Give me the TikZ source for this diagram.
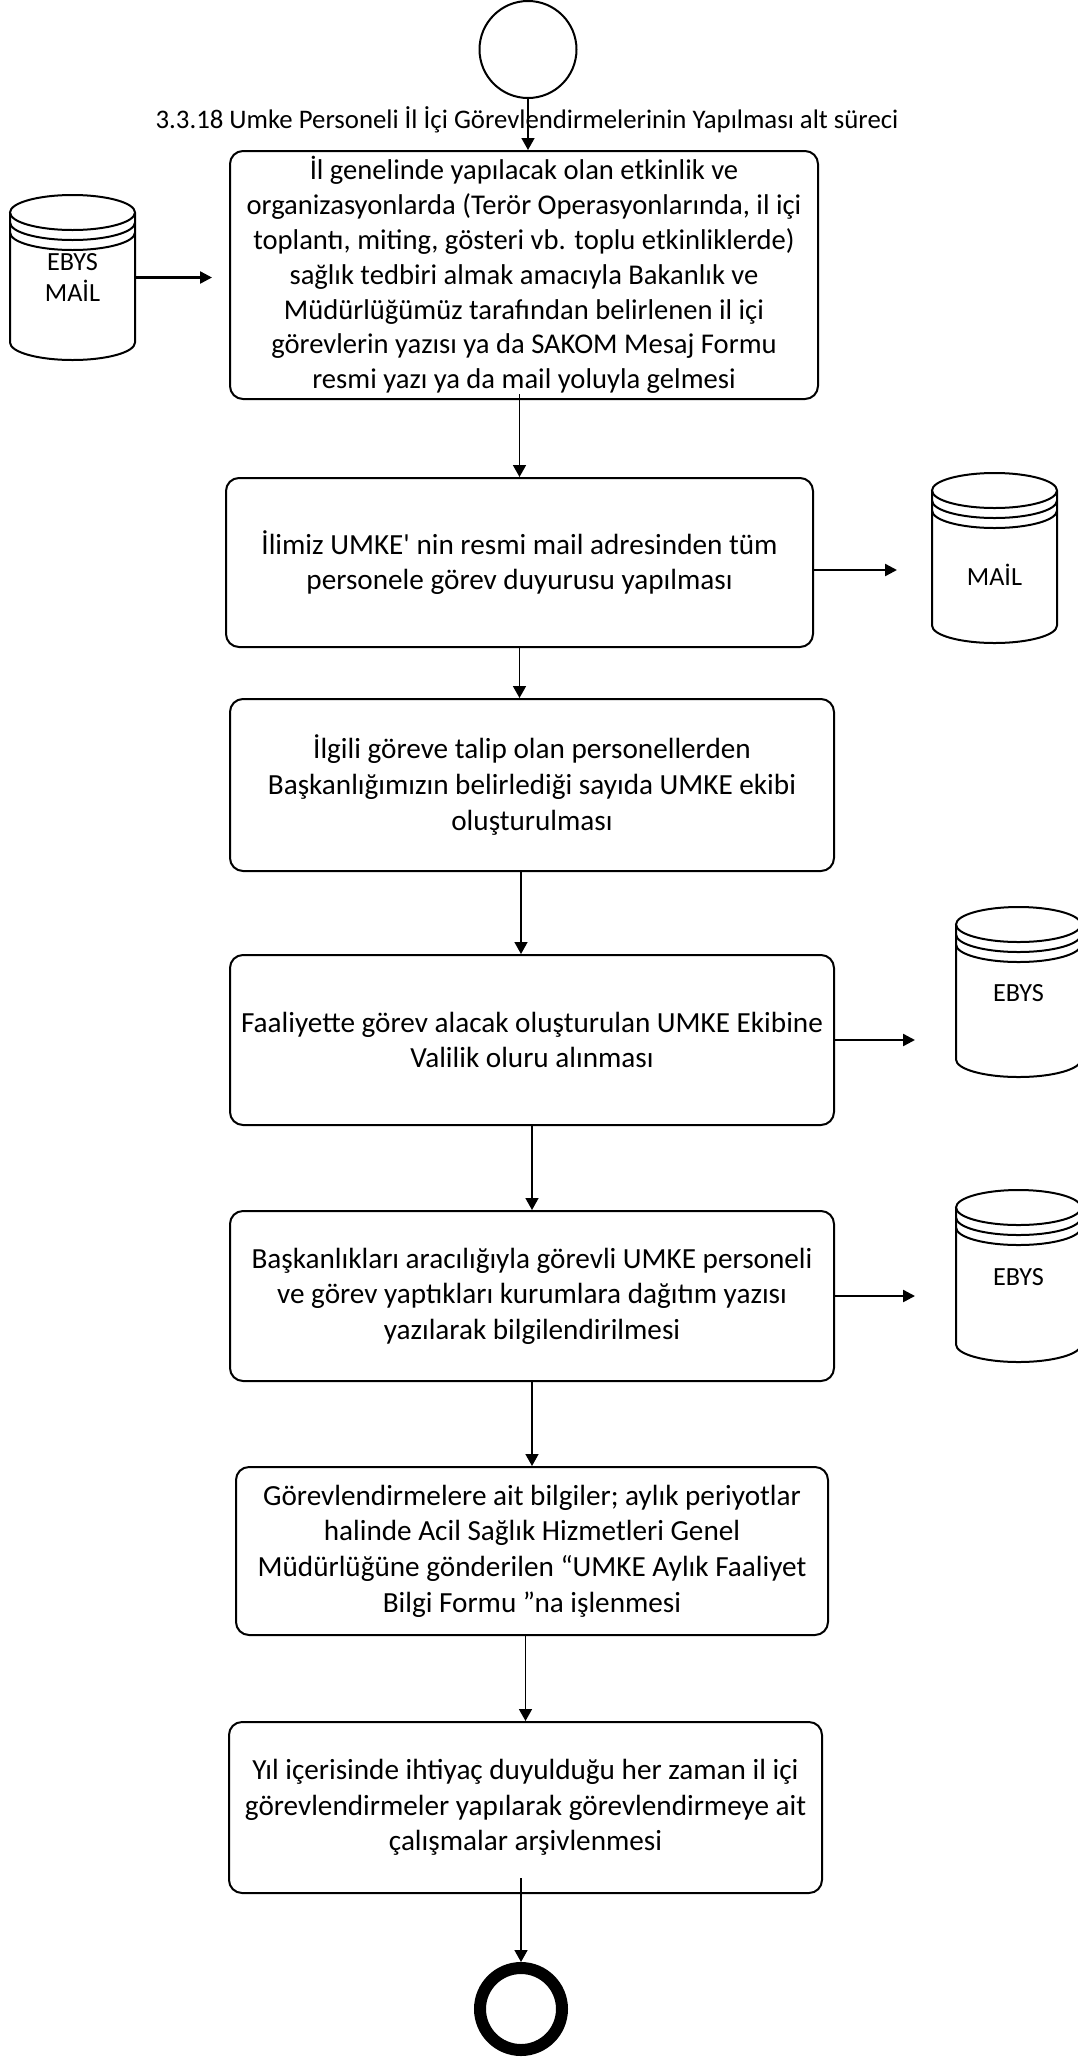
\documentclass[tikz,border=0pt]{standalone}
\usepackage{fontspec}
\setmainfont{Carlito}
\usetikzlibrary{arrows.meta}
\tikzset{
  box/.style={draw, line width=2pt, rounded corners=13pt, align=center, inner sep=0pt,
    font=\fontsize{29.2}{35.6}\selectfont},
  varr/.style={line width=1.6pt, -{Triangle[length=12pt,width=13pt]}},
  harr/.style={line width=2.4pt, -{Triangle[length=12pt,width=12pt]}},
  dbnode/.style={inner sep=0pt, outer sep=0pt, minimum width=125pt},
  dbtext/.style={align=center, inner sep=0pt, font=\fontsize{26.2}{31}\selectfont},
  dbline/.style={line width=2pt},
}
\newcommand\drawdb[1]{%
  \draw[dbline] ([yshift=-17.5pt]#1.north west) -- ([yshift=17.5pt]#1.south west)
    arc[start angle=180,end angle=360,x radius=62.5pt,y radius=17.5pt]
    -- ([yshift=-17.5pt]#1.north east);
  \draw[dbline] ([yshift=-17.5pt]#1.north) ellipse[x radius=62.5pt,y radius=17.5pt];
  \draw[dbline] ([yshift=-27.5pt]#1.north west)
    arc[start angle=180,end angle=360,x radius=62.5pt,y radius=17.5pt];
  \draw[dbline] ([yshift=-37.5pt]#1.north west)
    arc[start angle=180,end angle=360,x radius=62.5pt,y radius=17.5pt];
}
\begin{document}
\begin{tikzpicture}[x=1pt,y=-1pt]
\fill[white] (0,0) rectangle (1078,2067);
\useasboundingbox (0,0) rectangle (1078,2067);

% start / end
\node[circle, draw, line width=2pt, minimum size=97pt, inner sep=0pt] (start) at (528,49.5) {};
\node[circle, draw, line width=12pt, minimum size=82pt, inner sep=0pt] (end) at (521,2009) {};

% title
\node[anchor=base, inner sep=0pt, font=\fontsize{26.8}{31}\selectfont] (title) at (527,128)
  {3.3.18 Umke Personeli İl İçi Görevlendirmelerinin Yapılması alt süreci};

% process boxes
\node[box, minimum width=588pt, minimum height=248pt, font=\fontsize{28.6}{34.8}\selectfont] (b1) at (524,275)
  {İl genelinde yapılacak olan etkinlik ve\\
   organizasyonlarda (Terör Operasyonlarında, il içi\\
   toplantı, miting, gösteri vb. toplu etkinliklerde)\\
   sağlık tedbiri almak amacıyla Bakanlık ve\\
   Müdürlüğümüz tarafından belirlenen il içi\\
   görevlerin yazısı ya da SAKOM Mesaj Formu\\
   resmi yazı ya da mail yoluyla gelmesi};
\node[box, minimum width=587pt, minimum height=169pt] (b2) at (519.5,562.5)
  {İlimiz UMKE\textquotesingle{} nin resmi mail adresinden tüm\\
   personele görev duyurusu yapılması};
\node[box, minimum width=604pt, minimum height=172pt] (b3) at (532,785)
  {İlgili göreve talip olan personellerden\\
   Başkanlığımızın belirlediği sayıda UMKE ekibi\\
   oluşturulması};
\node[box, minimum width=604pt, minimum height=170pt] (b4) at (532,1040)
  {Faaliyette görev alacak oluşturulan UMKE Ekibine\\
   Valilik oluru alınması};
\node[box, minimum width=604pt, minimum height=170pt] (b5) at (532,1296)
  {Başkanlıkları aracılığıyla görevli UMKE personeli\\
   ve görev yaptıkları kurumlara dağıtım yazısı\\
   yazılarak bilgilendirilmesi};
\node[box, minimum width=592pt, minimum height=168pt] (b6) at (532,1551)
  {Görevlendirmelere ait bilgiler; aylık periyotlar\\
   halinde Acil Sağlık Hizmetleri Genel\\
   Müdürlüğüne gönderilen “UMKE Aylık Faaliyet\\
   Bilgi Formu ”na işlenmesi};
\node[box, minimum width=593pt, minimum height=171pt] (b7) at (525.5,1807.5)
  {Yıl içerisinde ihtiyaç duyulduğu her zaman il içi\\
   görevlendirmeler yapılarak görevlendirmeye ait\\
   çalışmalar arşivlenmesi};

% data stores
\node[dbnode, minimum height=165pt] (dbL) at (72.5,277.5) {};
\node[dbnode, minimum height=170pt] (dbM) at (994.5,558) {};
\node[dbnode, minimum height=170pt] (dbE1) at (1018.5,992) {};
\node[dbnode, minimum height=172pt] (dbE2) at (1018.5,1276) {};
\drawdb{dbL}
\drawdb{dbM}
\drawdb{dbE1}
\drawdb{dbE2}
\node[dbtext] (dbLt) at (72.5,277.5) {EBYS\\MAİL};
\node[dbtext] (dbMt) at (994.5,575) {MAİL};
\node[dbtext] (dbE1t) at (1018.5,993) {EBYS};
\node[dbtext] (dbE2t) at (1018.5,1277) {EBYS};

% vertical flow
\draw[varr] (start.south) -- (start.south |- b1.north);
\draw[varr] ([yshift=6pt]b1.south -| b2.north) -- (b2.north);
\draw[varr] (b2.south) -- (b2.south |- b3.north);
\draw[varr] ([xshift=-11pt]b3.south) -- ([xshift=-11pt]b4.north);
\draw[varr] (b4.south) -- (b5.north);
\draw[varr] (b5.south) -- (b6.north);
\draw[varr] (b6.south -| b7.north) -- (b7.north);
\draw[varr] ([yshift=16pt]b7.south -| end.north) -- (end.north);

% horizontal links
\draw[harr, shorten >=17pt] (dbL.east) -- (dbL.east -| b1.west);
\draw[harr, shorten >=35pt] ([yshift=-7.5pt]b2.east) -- ([yshift=-7.5pt]b2.east -| dbM.west);
\draw[harr, shorten >=41pt] (b4.east) -- (b4.east -| dbE1.west);
\draw[harr, shorten >=41pt] (b5.east) -- (b5.east -| dbE2.west);
\end{tikzpicture}
\end{document}
